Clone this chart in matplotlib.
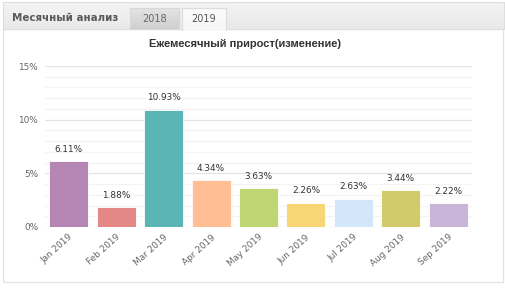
import matplotlib
matplotlib.use("Agg")
import matplotlib.pyplot as plt
import numpy as np
from matplotlib.patches import Rectangle
from matplotlib.ticker import MultipleLocator, FuncFormatter

months = ["Jan 2019", "Feb 2019", "Mar 2019", "Apr 2019", "May 2019",
          "Jun 2019", "Jul 2019", "Aug 2019", "Sep 2019"]
values = [6.11, 1.88, 10.93, 4.34, 3.63, 2.26, 2.63, 3.44, 2.22]
colors = ["#b585b4", "#e38884", "#5bb5b5", "#ffbe93", "#bfd673",
          "#f7d675", "#d2e7fa", "#d2cb6c", "#c8b5d8"]
title = "Ежемесячный прирост(изменение)"
tab_label = "Месячный анализ"
tab_years = ["2018", "2019"]

W, H = 505, 288
fig = plt.figure(figsize=(W / 100, H / 100), dpi=100)
fig.patch.set_facecolor("white")

def fx(x): return x / W
def fy(y): return 1 - y / H

def rect(x0, y0, x1, y1, fc, ec="none", lw=1.0, z=1):
    fig.patches.append(Rectangle((fx(x0), fy(y1)), fx(x1) - fx(x0), fy(y0) - fy(y1),
                                 transform=fig.transFigure, facecolor=fc,
                                 edgecolor=ec, linewidth=lw, zorder=z))

def grad_box(x0, y0, x1, y1, c_top, c_bot, ec):
    ax_g = fig.add_axes([fx(x0), fy(y1), fx(x1) - fx(x0), fy(y0) - fy(y1)])
    top = np.array(matplotlib.colors.to_rgb(c_top))
    bot = np.array(matplotlib.colors.to_rgb(c_bot))
    t = np.linspace(0, 1, 30)[:, None, None]
    img = top * (1 - t) + bot * t
    img = np.repeat(img, 2, axis=1)
    ax_g.imshow(img, aspect="auto", extent=[0, 1, 0, 1])
    ax_g.set_xticks([]); ax_g.set_yticks([])
    for s in ax_g.spines.values():
        s.set_color(ec); s.set_linewidth(0.8)
    return ax_g

# panel frame
rect(3, 29, 503, 282, "white", ec="#e2e2e2", lw=0.9, z=-5)
# header strip
grad_box(3, 2, 504, 29, "#f4f4f4", "#e9e9e9", "#dedede")
# tabs
grad_box(130, 8, 179, 29, "#e4e4e4", "#cfcfcf", "#d8d8d8")
ax_t = grad_box(182, 8, 226, 30, "#fbfbfb", "#f6f6f6", "#dcdcdc")
ax_t.spines["bottom"].set_visible(False)

fig.text(fx(65), fy(18), tab_label, ha="center", va="center",
         fontsize=7.4, fontweight="bold", color="#5a5a5a", family="DejaVu Sans")
fig.text(fx(154.5), fy(19), tab_years[0], ha="center", va="center",
         fontsize=7, color="#666666", family="DejaVu Sans")
fig.text(fx(204), fy(19), tab_years[1], ha="center", va="center",
         fontsize=7, color="#555555", family="DejaVu Sans")

fig.text(fx(245), fy(44), title, ha="center", va="center",
         fontsize=8, fontweight="bold", color="#333333", family="Liberation Sans")

# main axes
ax = fig.add_axes([fx(45), fy(227), fx(472) - fx(45), fy(66) - fy(227)])
ax.set_zorder(10)
ax.patch.set_alpha(0)
x = np.arange(len(months))
bars = ax.bar(x, values, width=0.82, color=colors, edgecolor="white",
              linewidth=0.6, zorder=3)
ax.set_xlim(-0.5, len(months) - 0.5)
ax.set_ylim(0, 15)
ax.yaxis.set_major_locator(MultipleLocator(5))
ax.yaxis.set_minor_locator(MultipleLocator(1))
ax.yaxis.set_major_formatter(FuncFormatter(lambda v, p: f"{v:.0f}%"))
ax.grid(axis="y", which="major", color="#e4e4e4", linewidth=0.9, zorder=0)
ax.grid(axis="y", which="minor", color="#f3f3f3", linewidth=0.8, zorder=0)
for s in ax.spines.values():
    s.set_visible(False)
ax.tick_params(axis="y", which="both", length=0, labelsize=6.4, labelcolor="#666666", pad=5)
ax.tick_params(axis="x", length=0, labelsize=6.4, labelcolor="#666666", pad=4)
ax.set_xticks(x)
ax.set_xticklabels(months, rotation=42, ha="right", rotation_mode="anchor",
                   family="DejaVu Sans")
for lab in ax.get_yticklabels():
    lab.set_family("DejaVu Sans")

for xi, v in zip(x, values):
    ax.annotate(f"{v:.2f}%", (xi, v), xytext=(0, 8.5), textcoords="offset points",
                ha="center", va="center", fontsize=6.4, color="#333333",
                family="DejaVu Sans")

fig.savefig("out.png", dpi=100, facecolor="white")
